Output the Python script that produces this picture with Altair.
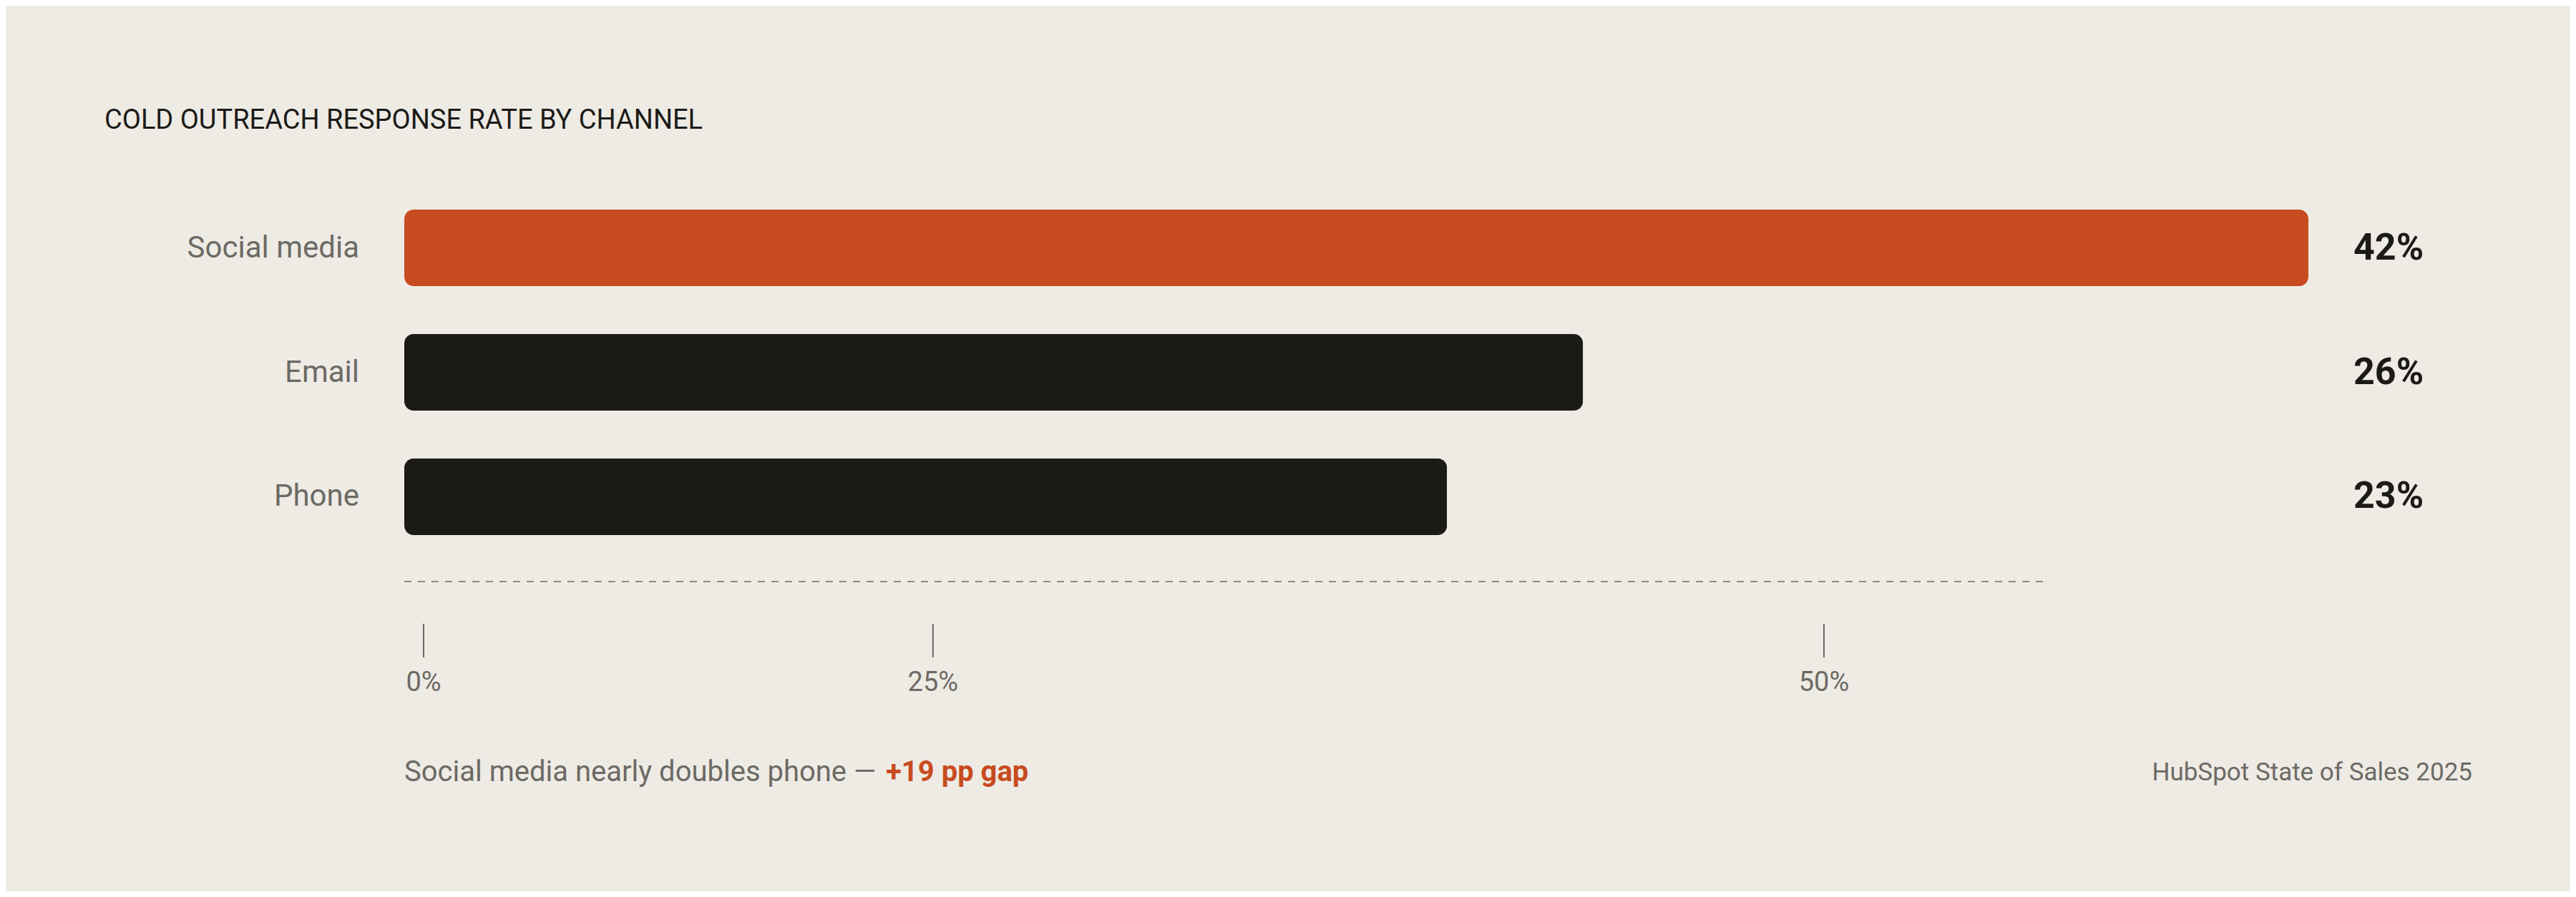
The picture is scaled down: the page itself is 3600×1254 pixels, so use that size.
import altair as alt
import pandas as pd

# ---- data ----
channels = ["Social media", "Email", "Phone"]
rates = [42, 26, 23]
rate_labels = ["42%", "26%", "23%"]
highlight = ["yes", "no", "no"]

tick_values = [0, 25, 50]
tick_labels = ["0%", "25%", "50%"]

title_text = "COLD OUTREACH RESPONSE RATE BY CHANNEL"
footnote_main = "Social media nearly doubles phone \u2014 "
footnote_accent = "+19 pp gap"
source_text = "HubSpot State of Sales 2025"

# ---- styles ----
BG = "#EEEBE4"
ORANGE = "#C84B1F"
INK = "#1B1A17"
GRAY = "#6B6A65"
FONT = "Roboto"

df = pd.DataFrame({"channel": channels, "rate": rates, "label": rate_labels, "hl": highlight})
ticks_df = pd.DataFrame({"value": tick_values, "tick": tick_labels})
one = pd.DataFrame({"k": [0]})

x_scale = alt.Scale(domain=[0, 42], range=[557, 3218])
y_scale = alt.Scale(domain=channels, range=[285, 740], paddingInner=0.385, paddingOuter=0)

base = alt.Chart(df)

bars = base.mark_bar(cornerRadius=13).encode(
    x=alt.X("rate:Q", scale=x_scale, axis=None),
    y=alt.Y("channel:N", scale=y_scale, axis=None, sort=channels),
    color=alt.Color("hl:N", scale=alt.Scale(domain=["yes", "no"], range=[ORANGE, INK]), legend=None),
)

cat_text = base.mark_text(align="right", baseline="middle", font=FONT, fontSize=42, color=GRAY).encode(
    x=alt.value(494),
    y=alt.Y("channel:N", scale=y_scale, axis=None, sort=channels, bandPosition=0.5),
    text="channel:N",
)

val_text = base.mark_text(align="left", baseline="middle", font=FONT, fontSize=52, fontWeight="bold", color=INK).encode(
    x=alt.value(3281),
    y=alt.Y("channel:N", scale=y_scale, axis=None, sort=channels, bandPosition=0.5),
    text="label:N",
)

bar_layer = alt.layer(bars, cat_text, val_text)

# the reference tick strip is spaced non-linearly
tick_scale = alt.Scale(type="pow", exponent=1.459, domain=[0, 50], range=[584, 2541])
tick_rules = alt.Chart(ticks_df).mark_rule(color=GRAY, strokeWidth=2).encode(
    x=alt.X("value:Q", scale=tick_scale, axis=None),
    y=alt.value(864),
    y2=alt.value(911),
)
tick_text = alt.Chart(ticks_df).mark_text(align="center", baseline="middle", font=FONT, fontSize=38, color=GRAY).encode(
    x=alt.X("value:Q", scale=tick_scale, axis=None),
    y=alt.value(947),
    text="tick:N",
)
tick_layer = alt.layer(tick_rules, tick_text)

dash = alt.Chart(one).mark_rule(color="#8E8B84", strokeWidth=2, strokeDash=[10, 9]).encode(
    x=alt.value(557), x2=alt.value(2848), y=alt.value(805)
)

title = alt.Chart(one).mark_text(
    text=title_text, align="left", baseline="middle", font=FONT, fontSize=38, color=INK
).encode(x=alt.value(138), y=alt.value(161))

foot1 = alt.Chart(one).mark_text(
    text=footnote_main, align="left", baseline="middle", font=FONT, fontSize=40, color=GRAY
).encode(x=alt.value(557), y=alt.value(1072))

foot2 = alt.Chart(one).mark_text(
    text=footnote_accent, align="left", baseline="middle", font=FONT, fontSize=40, fontWeight="bold", color=ORANGE
).encode(x=alt.value(1230), y=alt.value(1072))

source = alt.Chart(one).mark_text(
    text=source_text, align="right", baseline="middle", font=FONT, fontSize=35, color=GRAY
).encode(x=alt.value(3447), y=alt.value(1072))

chart = alt.layer(
    bar_layer, tick_layer, dash, title, foot1, foot2, source
).resolve_scale(x="independent", y="independent").properties(
    width=3584, height=1238, autosize=alt.AutoSizeParams(type="none"), padding=0, background=BG
).configure_view(stroke=None)

chart.save("out.html", embed_options={"renderer": "svg", "actions": False})
